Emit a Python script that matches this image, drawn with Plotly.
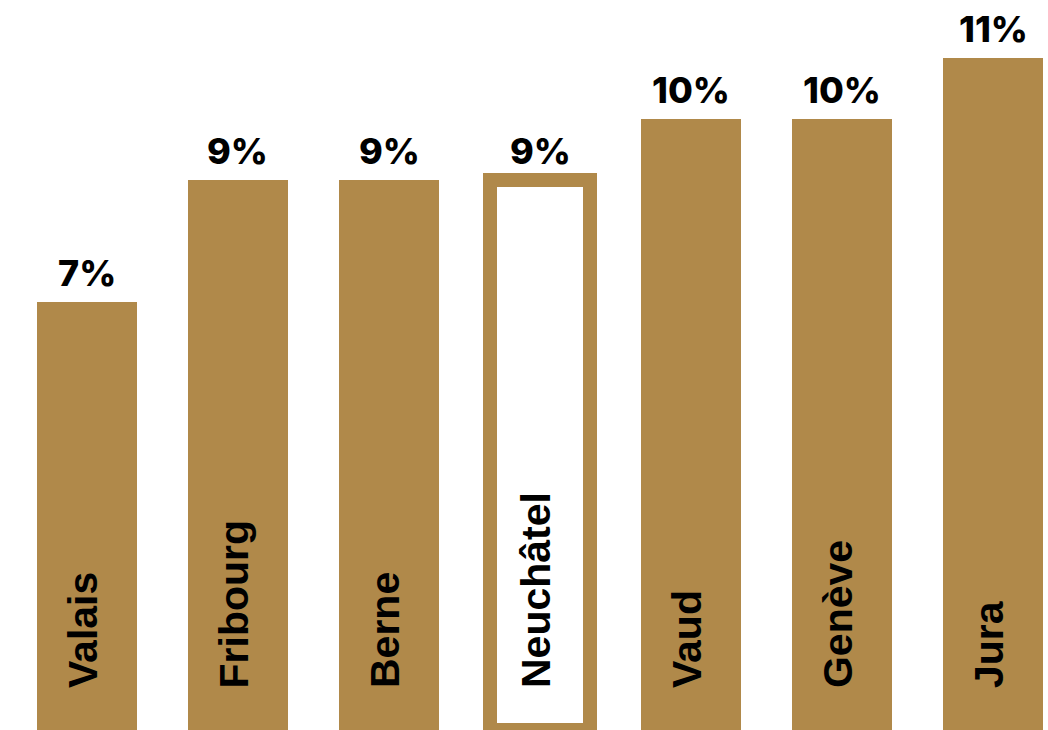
import plotly.graph_objects as go

cantons = ["Valais", "Fribourg", "Berne", "Neuchâtel", "Vaud", "Genève", "Jura"]
values = [7, 9, 9, 9, 10, 10, 11]
highlight = "Neuchâtel"

GOLD = "#B0894A"

fig = go.Figure()

fill_colors = ["white" if c == highlight else GOLD for c in cantons]
line_widths = [14 if c == highlight else 0 for c in cantons]

fig.add_trace(go.Bar(
    x=cantons,
    y=values,
    width=0.662,
    marker=dict(color=fill_colors, line=dict(color=GOLD, width=line_widths)),
    hoverinfo="skip",
))

annotations = []
for c, v in zip(cantons, values):
    annotations.append(dict(
        x=c, y=v, xref="x", yref="y",
        text=f"{v}%",
        showarrow=False,
        xanchor="center", yanchor="bottom",
        yshift=6, borderpad=0,
        font=dict(family="Inter", size=36, color="black", weight=800),
    ))
    annotations.append(dict(
        x=c, y=0, xref="x", yref="y",
        text=c,
        showarrow=False,
        textangle=-90,
        xanchor="center", yanchor="bottom",
        yshift=40, xshift=-4,
        font=dict(family="Liberation Sans", size=41, color="black", weight="bold"),
    ))

fig.update_layout(
    width=1048, height=730,
    margin=dict(l=0, r=0, t=0, b=0),
    paper_bgcolor="white",
    plot_bgcolor="white",
    showlegend=False,
    annotations=annotations,
    xaxis=dict(visible=False, range=[-0.576, 6.364], type="category"),
    yaxis=dict(visible=False, range=[0, 11.95]),
    bargap=0,
)

fig.write_html(
    "out.html",
    config={"displayModeBar": False},
    post_script="document.body.style.margin='0';document.body.style.overflow='hidden';",
)
